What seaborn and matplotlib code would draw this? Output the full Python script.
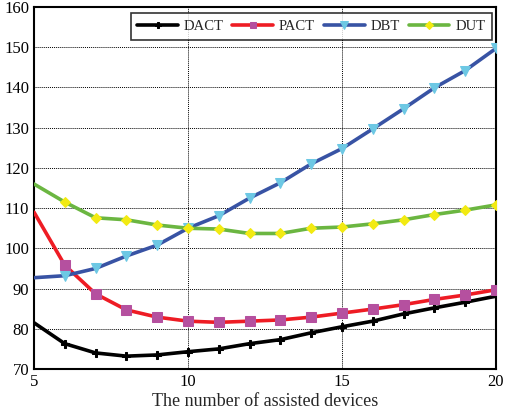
import numpy as np
import pandas as pd
import matplotlib
matplotlib.use("Agg")
import matplotlib.pyplot as plt
import seaborn as sns

devices = list(range(5, 21))
dact = [81.5, 76.3, 74.0, 73.2, 73.5, 74.3, 75.0, 76.3, 77.3, 79.0, 80.5, 81.9, 83.7, 85.2, 86.6, 88.1]
pact = [109.0, 95.8, 88.7, 84.7, 82.9, 81.9, 81.6, 81.9, 82.2, 82.9, 83.9, 84.9, 86.0, 87.3, 88.4, 89.7]
dbt = [92.7, 93.2, 95.0, 98.1, 100.8, 105.0, 108.1, 112.5, 116.3, 121.0, 124.8, 129.7, 134.7, 139.9, 144.2, 149.7]
dut = [116.0, 111.5, 107.6, 107.1, 105.8, 105.0, 104.8, 103.7, 103.7, 105.0, 105.3, 106.1, 107.1, 108.4, 109.5, 110.8]

series = {"DACT": dact, "PACT": pact, "DBT": dbt, "DUT": dut}
styles = {
    "DACT": dict(color="#000000", marker="P", mfc="#000000", mec="#000000", ms=6),
    "PACT": dict(color="#ee1c24", marker="s", mfc="#b5509f", mec="#b5509f", ms=6.5),
    "DBT": dict(color="#3853a4", marker="v", mfc="#6dc8e4", mec="#6dc8e4", ms=7),
    "DUT": dict(color="#6bb641", marker="D", mfc="#f2ea12", mec="#f2ea12", ms=5.5),
}

df = pd.DataFrame(
    [(x, name, v) for name, vals in series.items() for x, v in zip(devices, vals)],
    columns=["devices", "scheme", "value"],
)

sns.set_style("white")
plt.rcParams["font.family"] = ["Liberation Serif", "DejaVu Serif"]

fig = plt.figure(figsize=(5.05, 4.13), dpi=100)
ax = fig.add_axes([0.0673, 0.1065, 0.9147, 0.8765])

for name in series:
    st = styles[name]
    sns.lineplot(
        data=df[df["scheme"] == name], x="devices", y="value", ax=ax,
        color=st["color"], linewidth=2.6, marker=st["marker"],
        markerfacecolor=st["mfc"], markeredgecolor=st["mec"], markersize=st["ms"],
        markevery=list(range(1, len(devices))), label=name, zorder=3,
    )

ax.set_xlim(5, 20)
ax.set_ylim(70, 160)
ax.set_xticks([5, 10, 15, 20])
ax.set_yticks(range(70, 161, 10))
ax.grid(True, color="black", linestyle=(0, (1, 1)), linewidth=0.7)
ax.tick_params(axis="both", labelsize=12, direction="in", length=3, colors="black")
for s in ax.spines.values():
    s.set_color("black")
    s.set_linewidth(1.5)
ax.set_xlabel("The number of assisted devices", fontsize=13, labelpad=2)
ax.set_ylabel("")

leg = ax.legend(loc="upper right", ncol=4, fontsize=10.5, frameon=True, fancybox=False,
                edgecolor="black", handlelength=2.8, columnspacing=0.6, handletextpad=0.4,
                borderpad=0.45, borderaxespad=0, markerscale=0.75,
                bbox_to_anchor=(0.991, 0.983))
leg.get_frame().set_linewidth(1.2)

fig.savefig("out.png", dpi=100)
